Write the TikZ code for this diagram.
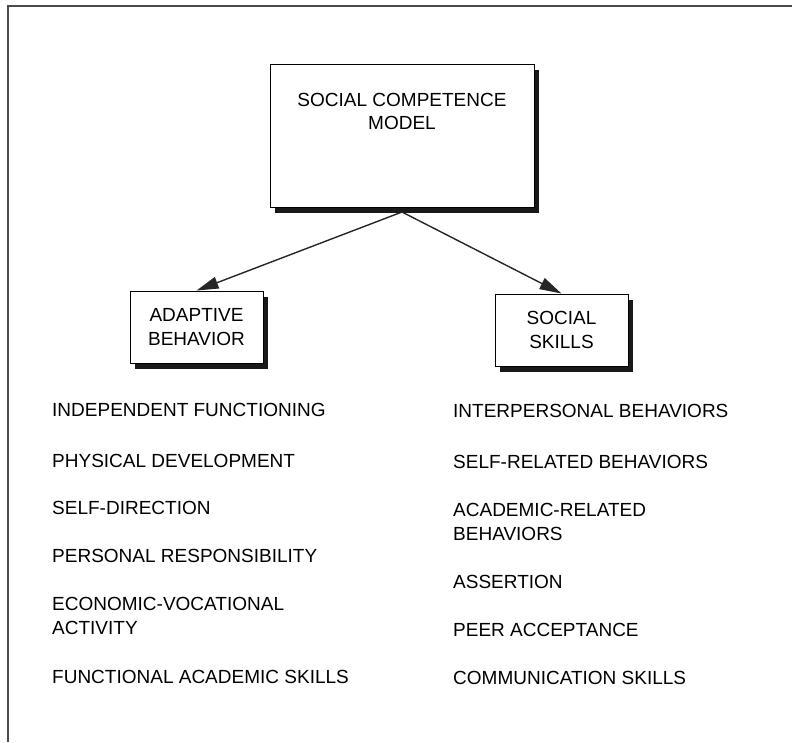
\documentclass[tikz,border=0pt]{standalone}
\usepackage{fontspec}
\setmainfont{Liberation Sans}
\usetikzlibrary{shadows,arrows.meta,calc}

\begin{document}
\begin{tikzpicture}[x=1pt,y=-1pt,
  every node/.style={font=\fontsize{19}{23.5}\selectfont, text=black},
  shadowbox/.style={draw=black, line width=0.9pt, fill=white, inner sep=0pt,
    drop shadow={shadow xshift=5pt, shadow yshift=-5.5pt, opacity=1, fill=black!90}},
  smallbox/.style={shadowbox, minimum width=133pt, minimum height=72pt, align=center},
  item/.style={anchor=west, align=left, inner sep=0pt},
  link/.style={draw=black!85, line width=1.4pt,
    -{Triangle[length=22pt,width=12pt]}},
  frame/.style={draw=black!70, line width=2pt}
]
\useasboundingbox (0,0) rectangle (792,742);

% open frame: left and top edges only
\draw[frame] (8,742) -- (8,6) -- (792,6);

% top box
\node[shadowbox] (scm) at (402,135.5)
  {\parbox[c][143pt][t]{264pt}{\centering\vspace*{29pt}SOCIAL COMPETENCE\\MODEL}};
\coordinate (fork) at (402,212);

% second level
\node[smallbox] (ab) at (196.5,327) {ADAPTIVE\\BEHAVIOR};
\node[smallbox] (ss) at (561.5,330) {SOCIAL\\SKILLS};

\draw[link] (fork) -- (ab.north);
\draw[link] (fork) -- (ss.north);

% adaptive behavior domains
\node[item] (a1) at (52,410) {INDEPENDENT FUNCTIONING};
\node[item] (a2) at (52,461) {PHYSICAL DEVELOPMENT};
\node[item] (a3) at (52,508) {SELF-DIRECTION};
\node[item] (a4) at (52,556) {PERSONAL RESPONSIBILITY};
\node[item] (a5) at (52,616) {ECONOMIC-VOCATIONAL\\ACTIVITY};
\node[item] (a6) at (52,677) {FUNCTIONAL ACADEMIC SKILLS};

% social skills domains
\node[item] (s1) at (453,411) {INTERPERSONAL BEHAVIORS};
\node[item] (s2) at (453,462) {SELF-RELATED BEHAVIORS};
\node[item] (s3) at (453,522) {ACADEMIC-RELATED\\BEHAVIORS};
\node[item] (s4) at (453,582) {ASSERTION};
\node[item] (s5) at (453,630) {PEER ACCEPTANCE};
\node[item] (s6) at (453,678) {COMMUNICATION SKILLS};
\end{tikzpicture}
\end{document}
